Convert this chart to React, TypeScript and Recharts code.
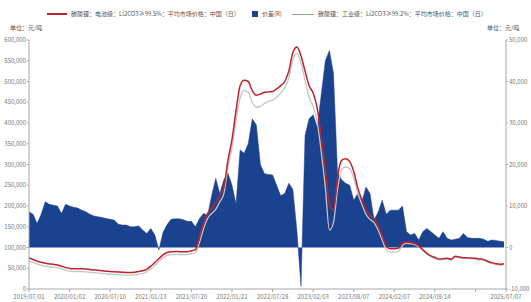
import { ComposedChart, Area, Line, XAxis, YAxis } from 'recharts'

const FONT = "'Noto Sans CJK SC', 'Noto Sans', sans-serif"

// 碳酸锂 电池级 平均市场价格 (元/吨), roughly one point per ~2.5 weeks
const batteryGrade = [
  74500, 71000, 67000, 64500, 62000, 60500, 59500, 58000, 55000, 52000,
  49500, 48500, 48500, 48500, 48000, 47000, 46000, 45000, 44000, 43000,
  42000, 41500, 41000, 40500, 40000, 40000, 40500, 42000, 44000, 47500,
  55000, 64000, 73000, 82000, 88000, 90000, 90500, 90000, 90000, 90000,
  92000, 95000, 125000, 158000, 182000, 195000, 208000, 225000, 245000, 310000,
  360000, 430000, 490000, 503000, 500000, 478000, 467000, 470000, 474000, 475000,
  476000, 482000, 490000, 500000, 525000, 570000, 583000, 562000, 525000, 490000,
  472000, 435000, 365000, 288000, 205000, 190000, 270000, 310000, 314000, 307000,
  283000, 243000, 215000, 190000, 178000, 170000, 152000, 128000, 104000, 97000,
  97000, 98000, 110000, 113000, 112000, 110000, 104000, 95000, 86000, 80000,
  76000, 72000, 73000, 74000, 71500, 79000, 77000, 75500, 75000, 74500,
  74000, 72500, 71000, 67000, 63500, 61000, 59500, 61000,
]

// 碳酸锂 工业级
const industrialGrade = [
  67000, 64000, 60000, 57500, 55000, 53500, 52500, 51500, 48500, 45500,
  43000, 42000, 42000, 42000, 41500, 40500, 39500, 38500, 37500, 36500,
  35500, 35000, 34500, 34000, 33500, 33500, 34000, 35500, 37500, 41000,
  48000, 57000, 66000, 75000, 81000, 83000, 83500, 83000, 83000, 83000,
  85000, 88000, 112000, 145000, 170000, 182000, 192000, 210000, 230000, 292000,
  340000, 405000, 460000, 478000, 474000, 450000, 438000, 440000, 447000, 452000,
  455000, 462000, 472000, 485000, 508000, 552000, 568000, 545000, 503000, 462000,
  440000, 402000, 330000, 245000, 142000, 160000, 240000, 288000, 294000, 290000,
  268000, 230000, 204000, 180000, 168000, 160000, 142000, 118000, 95000, 89000,
  89000, 91000, 105000, 110000, 109000, 107000, 101000, 93000, 84000, 78000,
  74000, 70000, 71000, 72000, 69500, 77000, 75000, 73500, 73000, 72500,
  72000, 70500, 69000, 65000, 61500, 59000, 57500, 59000,
]

// 价差 (R)
const spread = [
  8600, 8000, 5800, 8000, 11000, 10400, 10200, 10000, 8200, 10400,
  10000, 9700, 9500, 9000, 8600, 8000, 7600, 7400, 7200, 7000,
  6800, 6600, 5600, 5400, 5400, 5000, 5000, 5200, 4200, 3400,
  4600, 3000, -600, 3600, 5500, 6800, 6900, 6900, 6700, 6300,
  6300, 5000, 7000, 8200, 7800, 12500, 16700, 13000, 16300, 18000,
  15000, 10500, 23500, 22700, 25000, 31000, 29500, 20000, 17800, 17600,
  17500, 15000, 12500, 13000, 15500, 14000, 4000, -9400, 27000, 31000,
  32000, 29000, 37000, 45000, 47500, 42000, 18000, 16300, 15500, 15000,
  11400, 13000, 11000, 14600, 13000, 6600, 8500, 11400, 8000, 9000,
  9000, 9000, 10000, 3800, 3000, 3400, 1800, 3800, 4600, 3800,
  3000, 2200, 3800, 2200, 1800, 2000, 2200, 3400, 2400, 2200,
  2200, 2200, 2000, 1500, 1800, 1700, 1500, 1400,
]

const xTickIndex = [0, 10, 20, 30, 40, 50, 60, 70, 80, 90, 100, 110, 117.5]
const xTickLabels = [
  '2019/07/01', '2020/01/02', '2020/07/10', '2021/01/13', '2021/07/20', '2022/01/21',
  '2022/07/28', '2023/02/03', '2023/08/07', '2024/02/07', '2024/08/14', '', '2025/07/07',
]
const leftTicks = [0, 50000, 100000, 150000, 200000, 250000, 300000, 350000, 400000, 450000, 500000, 550000, 600000]
const rightTicks = [-10000, 0, 10000, 20000, 30000, 40000, 50000]

const labels = {
  battery: '碳酸锂：电池级：Li2CO3≥99.5%：平均市场价格：中国（日）',
  spread: '价差(R)',
  industrial: '碳酸锂：工业级：Li2CO3≥99.2%：平均市场价格：中国（日）',
  unit: '单位：元/吨',
}

const RED = '#c0222b'
const GREY = '#c4c4c4'
const BLUE = '#1b428f'
const AXIS = '#a8a8a8'
const tickStyle = { fontSize: 6, fill: '#777', fontFamily: FONT }
const fmt = (v: number) => v.toLocaleString('en-US')

export default function App() {
  const data = batteryGrade.map((v, i) => ({
    i,
    battery: v,
    industrial: industrialGrade[i],
    spread: spread[i],
  }))

  const text = { position: 'absolute' as const, fontSize: 6, color: '#555', lineHeight: '8px', whiteSpace: 'nowrap' as const }

  return (
    <div style={{ position: 'relative', width: 531, height: 302, background: '#fff', fontFamily: FONT }}>
      <style>{'body{margin:0}'}</style>
      <ComposedChart width={531} height={302} data={data} margin={{ top: 40, right: 0, bottom: 0, left: 0 }}>
        <XAxis
          dataKey="i"
          type="number"
          domain={[0, 117.5]}
          ticks={xTickIndex}
          interval={0}
          tickFormatter={(v: number) => xTickLabels[xTickIndex.indexOf(v)] ?? ''}
          height={13}
          stroke={AXIS}
          tickSize={3}
          tickMargin={3}
          tick={tickStyle}
        />
        <YAxis
          yAxisId="left"
          domain={[0, 600000]}
          ticks={leftTicks}
          interval={0}
          width={29}
          stroke={AXIS}
          tickSize={2}
          tickMargin={1}
          tick={tickStyle}
          tickFormatter={fmt}
        />
        <YAxis
          yAxisId="right"
          orientation="right"
          domain={[-10000, 50000]}
          ticks={rightTicks}
          interval={0}
          width={25}
          stroke={AXIS}
          tickSize={2}
          tickMargin={1}
          tick={{ ...tickStyle, textAnchor: 'start' }}
          tickFormatter={fmt}
        />
        <Area
          yAxisId="right"
          dataKey="spread"
          type="linear"
          baseValue={0}
          stroke={BLUE}
          strokeWidth={0.5}
          fill={BLUE}
          fillOpacity={1}
          isAnimationActive={false}
        />
        <Line yAxisId="left" dataKey="industrial" type="monotone" stroke={GREY} strokeWidth={1.3} dot={false} isAnimationActive={false} />
        <Line yAxisId="left" dataKey="battery" type="monotone" stroke={RED} strokeWidth={1.5} dot={false} isAnimationActive={false} />
      </ComposedChart>

      {/* legend */}
      <div style={{ position: 'absolute', left: 47, top: 13, width: 20, height: 2, background: RED }} />
      <div style={{ ...text, left: 71, top: 10 }}>{labels.battery}</div>
      <div style={{ position: 'absolute', left: 252, top: 11, width: 6, height: 6, background: BLUE }} />
      <div style={{ ...text, left: 262, top: 10 }}>{labels.spread}</div>
      <div style={{ position: 'absolute', left: 292, top: 13.5, width: 22, height: 1, background: '#999' }} />
      <div style={{ ...text, left: 318, top: 10 }}>{labels.industrial}</div>

      <div style={{ ...text, left: 10, top: 24 }}>{labels.unit}</div>
      <div style={{ ...text, left: 487, top: 24 }}>{labels.unit}</div>
    </div>
  )
}
